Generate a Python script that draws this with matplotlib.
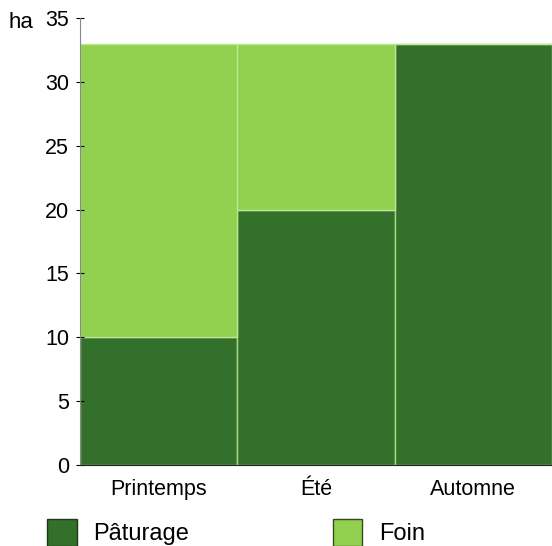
import matplotlib.pyplot as plt
from matplotlib.patches import Patch

plt.rcParams['font.family'] = ['Liberation Sans', 'DejaVu Sans']

seasons = ['Printemps', 'Été', 'Automne']
paturage = [10, 20, 33]
foin = [23, 13, 0]

dark = '#33702b'
light = '#92d050'

fig = plt.figure(figsize=(5.52, 5.46), dpi=100)
ax = fig.add_axes([80 / 552, 1 - 465 / 546, 1 - 80 / 552, (465 - 18) / 546])

x = range(len(seasons))
ax.bar(x, paturage, width=1.0, color=dark, edgecolor='#a8d880', linewidth=1)
ax.bar(x, foin, width=1.0, bottom=paturage, color=light, edgecolor='#b8e890', linewidth=1)

ax.set_xlim(-0.5, 2.5)
ax.set_ylim(0, 35)
ax.set_yticks(range(0, 36, 5))
ax.set_xticks(list(x))
ax.set_xticklabels(seasons)
ax.tick_params(axis='y', labelsize=15.5, direction='inout', length=6, pad=5)
ax.tick_params(axis='x', labelsize=15.5, length=0, pad=10)
ax.spines['top'].set_visible(False)
ax.spines['right'].set_visible(False)
ax.spines['left'].set_color('#888888')
ax.spines['bottom'].set_color('#222222')

fig.text(8 / 552, 1 - 22 / 546, 'ha', fontsize=16, va='center', ha='left')

handles = [Patch(facecolor=dark, edgecolor='#1b3a16', linewidth=1, label='Pâturage'),
           Patch(facecolor=light, edgecolor='#2f4a1c', linewidth=1, label='Foin')]
fig.legend(handles=handles, loc='upper left', bbox_to_anchor=(47 / 552, 1 - 519 / 546), ncol=2,
           frameon=False, fontsize=17, handlelength=1.25, handleheight=1.35,
           handletextpad=0.7, columnspacing=6.1, borderpad=0, borderaxespad=0)

fig.savefig('out.png', dpi=100)
